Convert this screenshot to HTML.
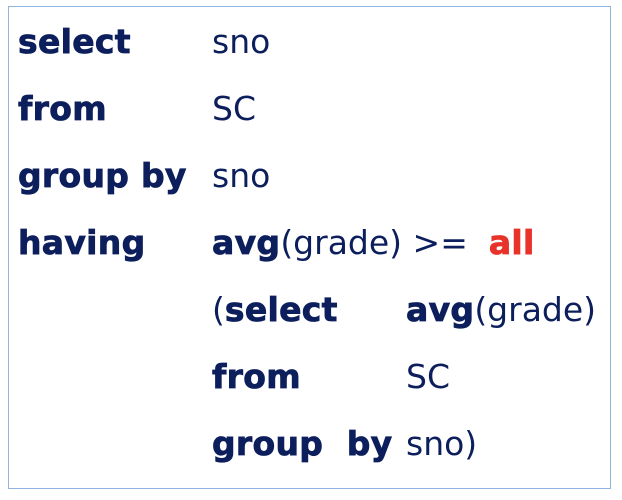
<!DOCTYPE html>
<html><head><style>
body{margin:0;width:622px;height:500px;background:#fff;position:relative;overflow:hidden;font-family:"DejaVu Sans","Liberation Sans",sans-serif;color:#0c1f5c;}
.box{position:absolute;left:8px;top:6px;width:603px;height:483px;border:1.5px solid #8fb4e0;box-sizing:border-box;}
.t{position:absolute;font-size:33px;line-height:1;white-space:pre;}
b{font-weight:bold;-webkit-text-stroke:0.8px #0c1f5c;letter-spacing:0.3px;}
.r{color:#e8332a;-webkit-text-stroke:0.8px #e8332a;}
</style></head><body>
<div class="box"></div>
<div class="t" style="left:18px;top:25px"><b>select</b></div>
<div class="t" style="left:212px;top:25px">sno</div>
<div class="t" style="left:18px;top:92px"><b>from</b></div>
<div class="t" style="left:212px;top:92px">SC</div>
<div class="t" style="left:18px;top:159px"><b>group by</b></div>
<div class="t" style="left:212px;top:159px">sno</div>
<div class="t" style="left:18px;top:226px"><b>having</b></div>
<div class="t" style="left:212px;top:226px"><b>avg</b>(grade) &gt;=  <b class="r">all</b></div>
<div class="t" style="left:212px;top:293px">(<b>select</b></div>
<div class="t" style="left:406px;top:293px"><b>avg</b>(grade)</div>
<div class="t" style="left:212px;top:360px"><b>from</b></div>
<div class="t" style="left:406px;top:360px">SC</div>
<div class="t" style="left:212px;top:427px"><b>group  by</b></div>
<div class="t" style="left:406px;top:427px">sno)</div>
</body></html>
